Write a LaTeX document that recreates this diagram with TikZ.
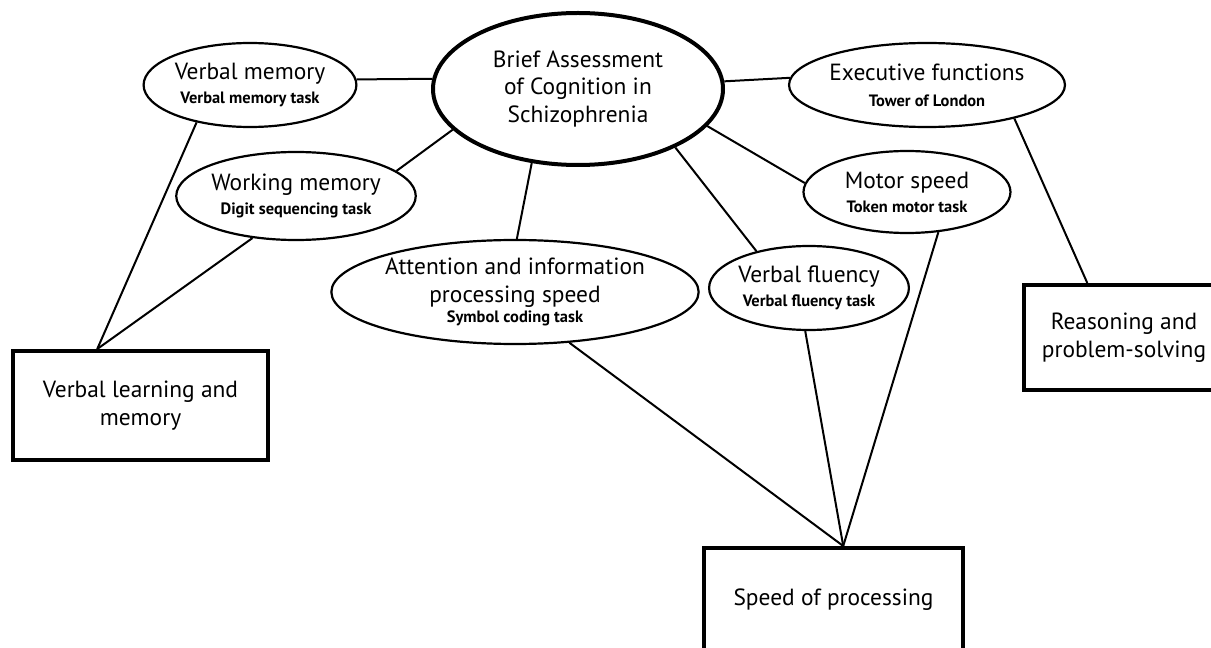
\documentclass[tikz,border=0pt]{standalone}
\usepackage{fontspec}
\setmainfont{PT Sans}
\usetikzlibrary{shapes.geometric,calc}
\tikzset{
  ell/.style={draw=black, ellipse, line width=2.2bp, inner sep=0pt, align=center, fill=white},
  bigell/.style={ell, line width=4bp},
  boxnode/.style={draw=black, rectangle, line width=4bp, inner sep=0pt, align=center},
  conn/.style={draw=black, line width=2bp},
  mainf/.style={font=\fontsize{23.5}{28}\selectfont},
}
\newcommand{\subt}[1]{{\fontsize{16.5}{20}\selectfont\bfseries #1}}
\begin{document}
\begin{tikzpicture}[x=1bp,y=-1bp]
\useasboundingbox (0,0) rectangle (1211,648);
% ellipses
\node[bigell, mainf, minimum width=290bp, minimum height=152bp] (bacs) at (578,89) {Brief Assessment\\of Cognition in\\Schizophrenia};
\node[ell, mainf, minimum width=201bp, minimum height=84bp] (vm) at (250,85) {Verbal memory\\[-4bp]\subt{Verbal memory task}};
\node[ell, mainf, minimum width=206bp, minimum height=88bp] (wm) at (296,196) {Working memory\\[-4bp]\subt{Digit sequencing task}};
\node[ell, mainf, minimum width=260bp, minimum height=84bp] (ef) at (927,85) {Executive functions\\[-2bp]\subt{Tower of London}};
\node[ell, mainf, minimum width=207bp, minimum height=82bp] (ms) at (907,192) {Motor speed\\[-4bp]\subt{Token motor task}};
\node[ell, mainf, minimum width=344bp, minimum height=104bp] (att) at (515,292) {Attention and information\\processing speed\\[-7bp]\subt{Symbol coding task}};
\node[ell, mainf, minimum width=198bp, minimum height=84bp] (vf) at (809,288) {Verbal fluency\\[-4bp]\subt{Verbal fluency task}};
% boxes
\node[boxnode, mainf, minimum width=255bp, minimum height=109bp] (vlm) at (140.5,405.5) {Verbal learning and\\memory};
\node[boxnode, mainf, minimum width=200bp, minimum height=105bp] (rps) at (1124,337.5) {Reasoning and\\problem-solving};
\node[boxnode, mainf, minimum width=259bp, minimum height=104bp] (sop) at (833.5,600) {Speed of processing};
% junction points on box tops
\coordinate (vlmtop) at ($(vlm.north west)!0.333!(vlm.north east)$);
\coordinate (rpstop) at ($(rps.north west)!0.32!(rps.north east)$);
\coordinate (soptop) at ($(sop.north west)!0.537!(sop.north east)$);
% connectors
\draw[conn] (bacs.176.5) -- (vm.3);
\draw[conn] (bacs.198) -- (wm.14.8);
\draw[conn] (bacs.-122.4) -- (att.88);
\draw[conn] (bacs.-31.6) -- (vf.145);
\draw[conn] (bacs.-16.4) -- (ms.175.6);
\draw[conn] (bacs.3.6) -- (ef.177.8);
\draw[conn] (vm.-145) -- (vlmtop);
\draw[conn] (wm.-136.4) -- (vlmtop);
\draw[conn] (ef.-21.9) -- (rpstop);
\draw[conn] (ms.-52.2) -- (soptop);
\draw[conn] (vf.-95) -- (soptop);
\draw[conn] (att.-43.3) -- (soptop);
\end{tikzpicture}
\end{document}
